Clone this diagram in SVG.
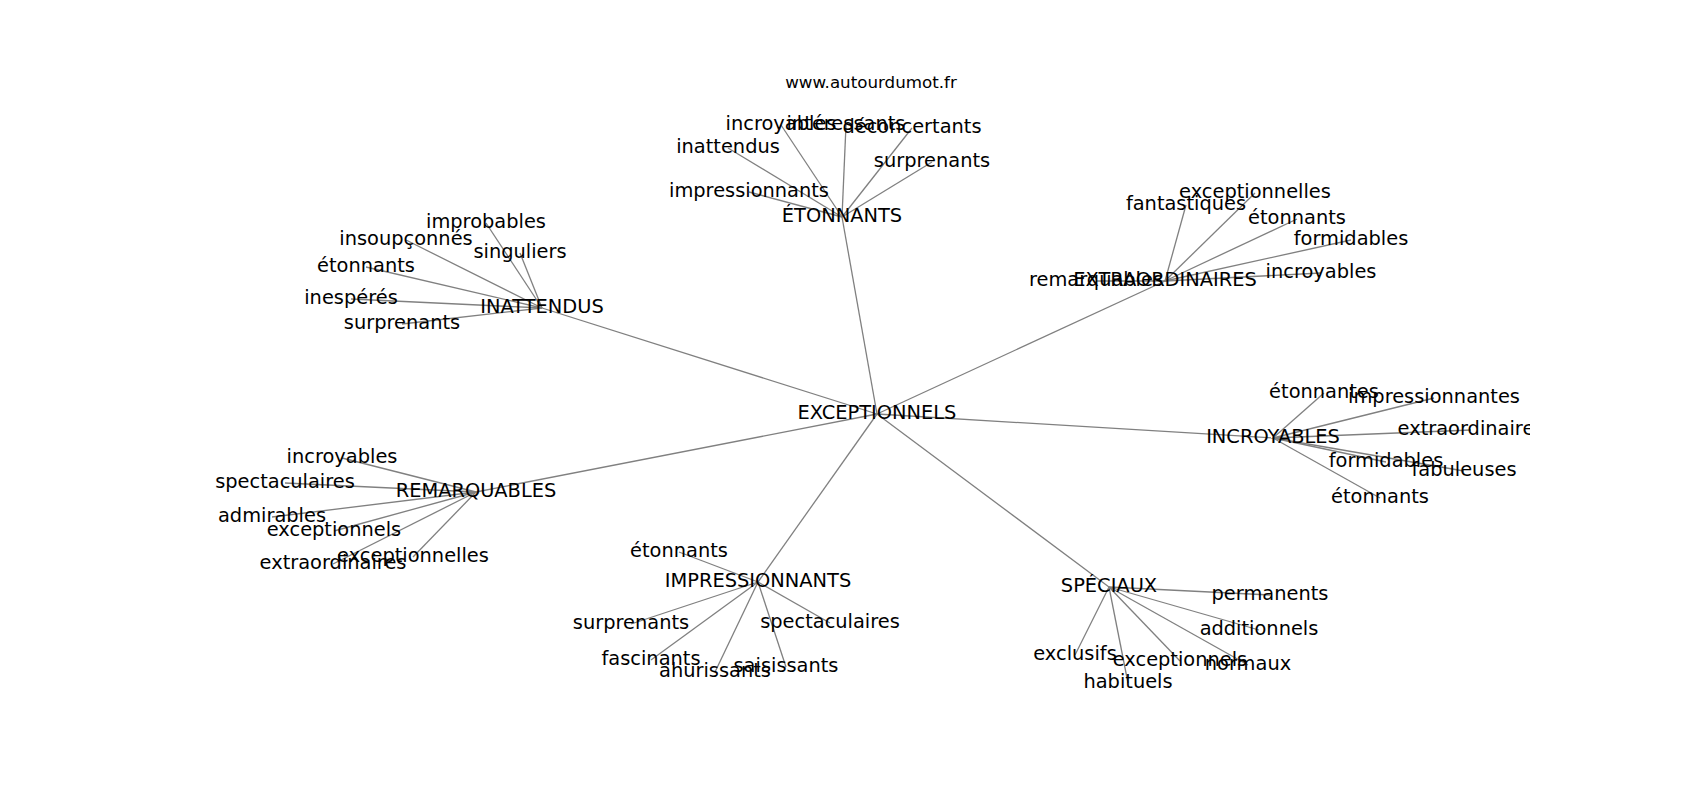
<svg xmlns="http://www.w3.org/2000/svg" width="1700" height="800" viewBox="0 0 1700 800">
<defs>
<style>
text{font-family:"DejaVu Sans",sans-serif;font-size:19.4px;fill:#000;text-anchor:middle}
.title{font-size:16.7px}
.e line{stroke:#808080;stroke-width:1.3}
</style>
<clipPath id="ax"><rect x="212.5" y="96" width="1317.5" height="616"/></clipPath>
</defs>
<rect width="1700" height="800" fill="#fff"/>
<text class="title" x="871" y="88">www.autourdumot.fr</text>
<g class="e" id="connectors">
<line x1="877" y1="414" x2="842" y2="217"/>
<line x1="877" y1="414" x2="1165" y2="281"/>
<line x1="877" y1="414" x2="542" y2="308"/>
<line x1="877" y1="414" x2="1273" y2="438"/>
<line x1="877" y1="414" x2="476" y2="492"/>
<line x1="877" y1="414" x2="758" y2="582"/>
<line x1="877" y1="414" x2="1109" y2="587"/>
<line x1="842" y1="217" x2="781" y2="125"/>
<line x1="842" y1="217" x2="846" y2="125"/>
<line x1="842" y1="217" x2="912" y2="128"/>
<line x1="842" y1="217" x2="728" y2="148"/>
<line x1="842" y1="217" x2="932" y2="162"/>
<line x1="842" y1="217" x2="749" y2="192"/>
<line x1="1165" y1="281" x2="1096" y2="281"/>
<line x1="1165" y1="281" x2="1186" y2="205"/>
<line x1="1165" y1="281" x2="1255" y2="193"/>
<line x1="1165" y1="281" x2="1297" y2="219"/>
<line x1="1165" y1="281" x2="1351" y2="240"/>
<line x1="1165" y1="281" x2="1321" y2="273"/>
<line x1="542" y1="308" x2="486" y2="223"/>
<line x1="542" y1="308" x2="406" y2="240"/>
<line x1="542" y1="308" x2="520" y2="253"/>
<line x1="542" y1="308" x2="366" y2="267"/>
<line x1="542" y1="308" x2="351" y2="299"/>
<line x1="542" y1="308" x2="402" y2="324"/>
<line x1="1273" y1="438" x2="1324" y2="393"/>
<line x1="1273" y1="438" x2="1434" y2="398"/>
<line x1="1273" y1="438" x2="1471" y2="430"/>
<line x1="1273" y1="438" x2="1386" y2="462"/>
<line x1="1273" y1="438" x2="1464" y2="471"/>
<line x1="1273" y1="438" x2="1380" y2="498"/>
<line x1="476" y1="492" x2="342" y2="458"/>
<line x1="476" y1="492" x2="285" y2="483"/>
<line x1="476" y1="492" x2="272" y2="517"/>
<line x1="476" y1="492" x2="334" y2="531"/>
<line x1="476" y1="492" x2="333" y2="564"/>
<line x1="476" y1="492" x2="413" y2="557"/>
<line x1="758" y1="582" x2="679" y2="552"/>
<line x1="758" y1="582" x2="631" y2="624"/>
<line x1="758" y1="582" x2="830" y2="623"/>
<line x1="758" y1="582" x2="651" y2="660"/>
<line x1="758" y1="582" x2="715" y2="672"/>
<line x1="758" y1="582" x2="786" y2="667"/>
<line x1="1109" y1="587" x2="1270" y2="595"/>
<line x1="1109" y1="587" x2="1259" y2="630"/>
<line x1="1109" y1="587" x2="1075" y2="655"/>
<line x1="1109" y1="587" x2="1180" y2="661"/>
<line x1="1109" y1="587" x2="1248" y2="665"/>
<line x1="1109" y1="587" x2="1128" y2="683"/>
</g>
<g clip-path="url(#ax)">
<g id="n-exceptionnels"><text x="877" y="419">EXCEPTIONNELS</text></g>
<g id="n-etonnants"><text x="842" y="222">ÉTONNANTS</text></g>
<g id="n-extraordinaires"><text x="1165" y="286">EXTRAORDINAIRES</text></g>
<g id="n-inattendus"><text x="542" y="313">INATTENDUS</text></g>
<g id="n-incroyables"><text x="1273" y="443">INCROYABLES</text></g>
<g id="n-remarquables"><text x="476" y="497">REMARQUABLES</text></g>
<g id="n-impressionnants"><text x="758" y="587">IMPRESSIONNANTS</text></g>
<g id="n-speciaux"><text x="1109" y="592">SPÉCIAUX</text></g>

<g id="n-et-incroyables"><text x="781" y="130">incroyables</text></g>
<g id="n-et-interessants"><text x="846" y="130">intéressants</text></g>
<g id="n-et-deconcertants"><text x="912" y="133">déconcertants</text></g>
<g id="n-et-inattendus"><text x="728" y="153">inattendus</text></g>
<g id="n-et-surprenants"><text x="932" y="167">surprenants</text></g>
<g id="n-et-impressionnants"><text x="749" y="197">impressionnants</text></g>

<g id="n-ex-remarquables"><text x="1096" y="286">remarquables</text></g>
<g id="n-ex-fantastiques"><text x="1186" y="210">fantastiques</text></g>
<g id="n-ex-exceptionnelles"><text x="1255" y="198">exceptionnelles</text></g>
<g id="n-ex-etonnants"><text x="1297" y="224">étonnants</text></g>
<g id="n-ex-formidables"><text x="1351" y="245">formidables</text></g>
<g id="n-ex-incroyables"><text x="1321" y="278">incroyables</text></g>

<g id="n-in-improbables"><text x="486" y="228">improbables</text></g>
<g id="n-in-insoupconnes"><text x="406" y="245">insoupçonnés</text></g>
<g id="n-in-singuliers"><text x="520" y="258">singuliers</text></g>
<g id="n-in-etonnants"><text x="366" y="272">étonnants</text></g>
<g id="n-in-inesperes"><text x="351" y="304">inespérés</text></g>
<g id="n-in-surprenants"><text x="402" y="329">surprenants</text></g>

<g id="n-ic-etonnantes"><text x="1324" y="398">étonnantes</text></g>
<g id="n-ic-impressionnantes"><text x="1434" y="403">impressionnantes</text></g>
<g id="n-ic-extraordinaires"><text x="1471" y="435">extraordinaires</text></g>
<g id="n-ic-formidables"><text x="1386" y="467">formidables</text></g>
<g id="n-ic-fabuleuses"><text x="1464" y="476">fabuleuses</text></g>
<g id="n-ic-etonnants"><text x="1380" y="503">étonnants</text></g>

<g id="n-re-incroyables"><text x="342" y="463">incroyables</text></g>
<g id="n-re-spectaculaires"><text x="285" y="488">spectaculaires</text></g>
<g id="n-re-admirables"><text x="272" y="522">admirables</text></g>
<g id="n-re-exceptionnels"><text x="334" y="536">exceptionnels</text></g>
<g id="n-re-extraordinaires"><text x="333" y="569">extraordinaires</text></g>
<g id="n-re-exceptionnelles"><text x="413" y="562">exceptionnelles</text></g>

<g id="n-im-etonnants"><text x="679" y="557">étonnants</text></g>
<g id="n-im-surprenants"><text x="631" y="629">surprenants</text></g>
<g id="n-im-spectaculaires"><text x="830" y="628">spectaculaires</text></g>
<g id="n-im-fascinants"><text x="651" y="665">fascinants</text></g>
<g id="n-im-ahurissants"><text x="715" y="677">ahurissants</text></g>
<g id="n-im-saisissants"><text x="786" y="672">saisissants</text></g>

<g id="n-sp-permanents"><text x="1270" y="600">permanents</text></g>
<g id="n-sp-additionnels"><text x="1259" y="635">additionnels</text></g>
<g id="n-sp-exclusifs"><text x="1075" y="660">exclusifs</text></g>
<g id="n-sp-exceptionnels"><text x="1180" y="666">exceptionnels</text></g>
<g id="n-sp-normaux"><text x="1248" y="670">normaux</text></g>
<g id="n-sp-habituels"><text x="1128" y="688">habituels</text></g>
</g>
</svg>
